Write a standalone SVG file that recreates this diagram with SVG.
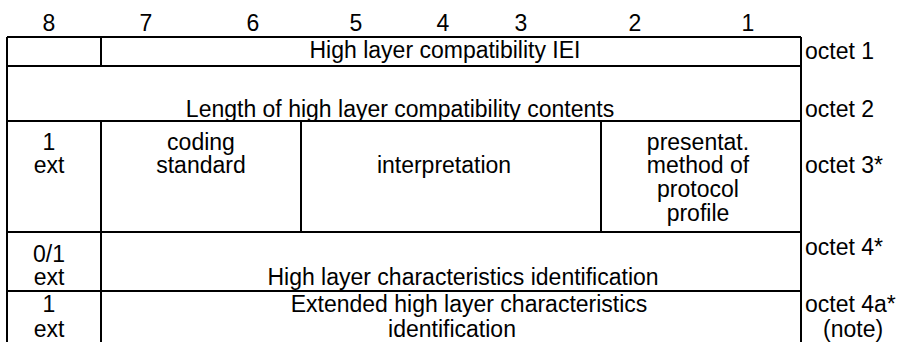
<svg xmlns="http://www.w3.org/2000/svg" width="909" height="342" viewBox="0 0 909 342">
<style>
text{font-family:"Liberation Sans",Arial,sans-serif;font-size:23px;fill:#000}
.c{text-anchor:middle}
.l{fill:none;stroke:#000;stroke-width:2}
</style>
<rect width="909" height="342" fill="#fff"/>
<g id="header">
<text class="c" x="49" y="31">8</text>
<text class="c" x="146" y="31">7</text>
<text class="c" x="253" y="31">6</text>
<text class="c" x="356" y="31">5</text>
<text class="c" x="443" y="31">4</text>
<text class="c" x="521" y="31">3</text>
<text class="c" x="635" y="31">2</text>
<text class="c" x="748" y="31">1</text>
</g>
<g id="grid">
<path class="l" d="M7 37H801M7 66H801M7 121H801M7 232H801M7 291H801"/>
<path class="l" d="M7 37V342M801 37V342M101 37V66M101 121V342M301 121V232M601 121V232"/>
</g>
<g id="octet1">
<text class="c" x="445" y="58">High layer compatibility IEI</text>
<text x="805" y="59">octet 1</text>
</g>
<g id="octet2">
<text class="c" x="400" y="117">Length of high layer compatibility contents</text>
<text x="805" y="117">octet 2</text>
</g>
<g id="octet3">
<text class="c" x="49" y="150">1</text>
<text class="c" x="49" y="173">ext</text>
<text class="c" x="201" y="150">coding</text>
<text class="c" x="201" y="173">standard</text>
<text class="c" x="444" y="173">interpretation</text>
<text class="c" x="698" y="150">presentat.</text>
<text class="c" x="698" y="173">method of</text>
<text class="c" x="698" y="197">protocol</text>
<text class="c" x="698" y="221">profile</text>
<text x="805" y="173">octet 3*</text>
</g>
<g id="octet4">
<text class="c" x="49" y="262">0/1</text>
<text class="c" x="49" y="285">ext</text>
<text class="c" x="463" y="285">High layer characteristics identification</text>
<text x="805" y="255">octet 4*</text>
</g>
<g id="octet4a">
<text class="c" x="49" y="312">1</text>
<text class="c" x="49" y="337">ext</text>
<text class="c" x="469" y="312">Extended high layer characteristics</text>
<text class="c" x="452" y="337">identification</text>
<text x="805" y="312">octet 4a*</text>
<text x="823" y="337">(note)</text>
</g>
</svg>
